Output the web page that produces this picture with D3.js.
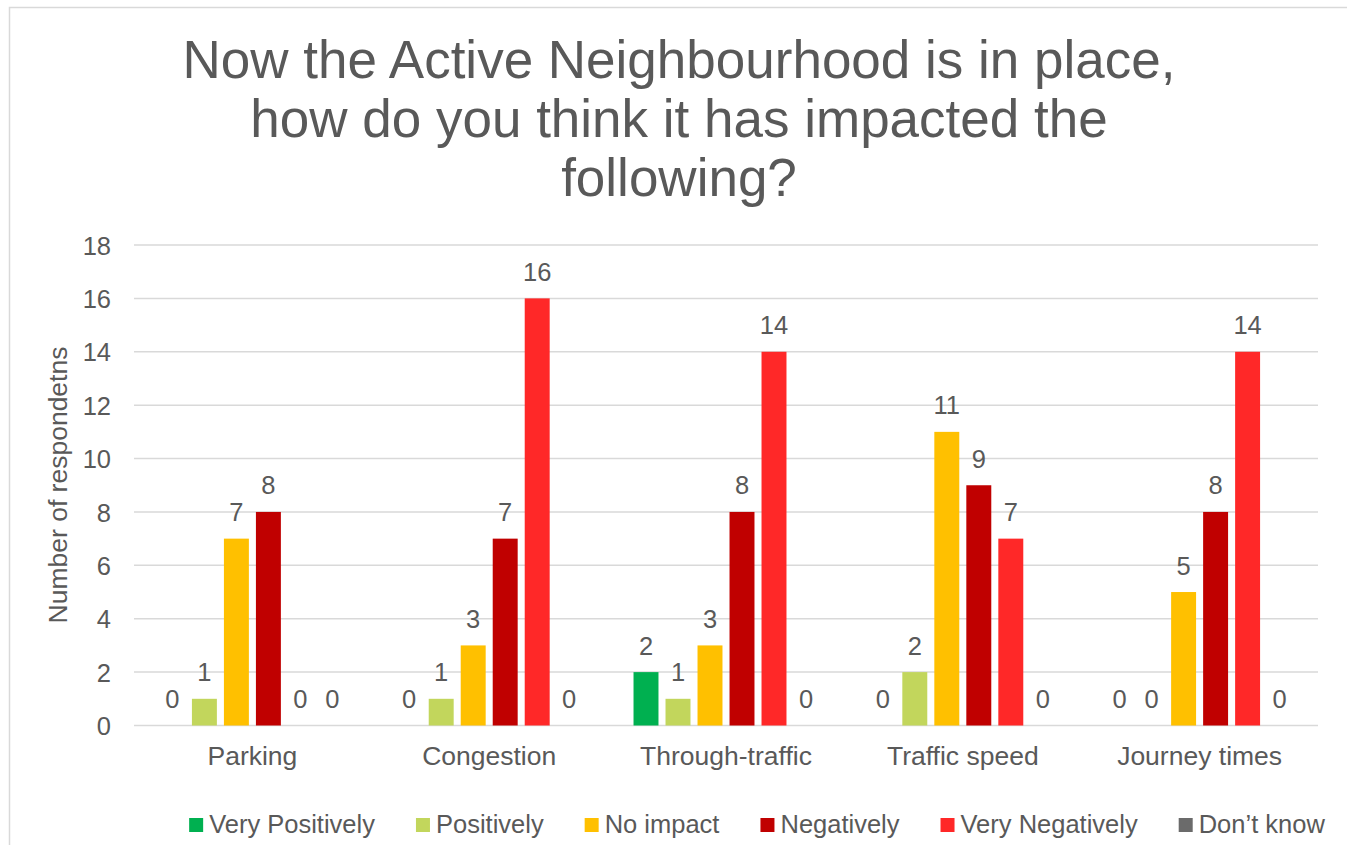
<!DOCTYPE html>
<html>
<head>
<meta charset="utf-8">
<script src="https://cdn.jsdelivr.net/npm/d3@7"></script>
<style>
  body { margin: 0; background: #fff; }
  text { font-family: "Liberation Sans", Arial, sans-serif; fill: #595959; }
</style>
</head>
<body>
<svg id="chart"></svg>
<script>
var categories = ["Parking", "Congestion", "Through-traffic", "Traffic speed", "Journey times"];
var seriesNames = ["Very Positively", "Positively", "No impact", "Negatively", "Very Negatively", "Don\u2019t know"];
var veryPositively = [0, 0, 2, 0, 0];
var positively = [1, 1, 1, 2, 0];
var noImpact = [7, 3, 3, 11, 5];
var negatively = [8, 7, 8, 9, 8];
var veryNegatively = [0, 16, 14, 7, 14];
var dontKnow = [0, 0, 0, 0, 0];
var yTicks = [0, 2, 4, 6, 8, 10, 12, 14, 16, 18];
var titleLines = ["Now the Active Neighbourhood is in place,", "how do you think it has impacted the", "following?"];

var seriesValues = [veryPositively, positively, noImpact, negatively, veryNegatively, dontKnow];
var colors = ["#00B050", "#C2D65C", "#FFC000", "#C00000", "#FF2828", "#6B6B6B"];

var width = 1347, height = 845;
var svg = d3.select("#chart").attr("width", width).attr("height", height);

// chart frame (cut off at right and bottom)
svg.append("rect")
  .attr("x", 9.5).attr("y", 7.5)
  .attr("width", 1400).attr("height", 900)
  .attr("fill", "none").attr("stroke", "#d9d9d9").attr("stroke-width", 1.5);

// title
svg.append("g").selectAll("text")
  .data(titleLines)
  .enter().append("text")
  .attr("x", 679)
  .attr("y", function (d, i) { return 78 + i * 59; })
  .attr("text-anchor", "middle")
  .style("font-size", "53px")
  .text(function (d) { return d; });

var x0 = d3.scaleBand().domain(categories).range([134, 1318]).padding(0);
var gap = x0.bandwidth() * 0.0946;
var x1 = d3.scaleBand().domain(seriesNames)
  .range([gap, x0.bandwidth() - gap])
  .paddingInner(0.22).paddingOuter(0.11);
var y = d3.scaleLinear().domain([0, 18]).range([725.5, 245]);

// gridlines
svg.append("g").selectAll("line")
  .data(yTicks)
  .enter().append("line")
  .attr("x1", 134).attr("x2", 1318)
  .attr("y1", function (d) { return y(d); })
  .attr("y2", function (d) { return y(d); })
  .attr("stroke", "#d9d9d9").attr("stroke-width", 1.5);

// y axis
var yAxis = svg.append("g")
  .attr("transform", "translate(111,0)")
  .call(d3.axisLeft(y).tickValues(yTicks).tickSize(0).tickPadding(0));
yAxis.select(".domain").remove();
yAxis.selectAll("text")
  .style("font-size", "25.5px")
  .attr("fill", "#595959")
  .attr("dy", "0.36em");

svg.append("text")
  .attr("transform", "translate(67,485) rotate(-90)")
  .attr("text-anchor", "middle")
  .style("font-size", "26.5px")
  .text("Number of respondetns");

// x axis labels
var xAxis = svg.append("g")
  .attr("transform", "translate(0,725.5)")
  .call(d3.axisBottom(x0).tickSize(0).tickPadding(0));
xAxis.select(".domain").remove();
xAxis.selectAll("text")
  .style("font-size", "26.5px")
  .attr("fill", "#595959")
  .attr("dy", "0")
  .attr("y", 39);

// bars
var groups = svg.append("g").selectAll("g")
  .data(categories)
  .enter().append("g")
  .attr("transform", function (d) { return "translate(" + x0(d) + ",0)"; });

groups.each(function (cat, ci) {
  var g = d3.select(this);
  var rows = seriesNames.map(function (s, si) {
    return { name: s, value: seriesValues[si][ci], color: colors[si] };
  });
  g.selectAll("rect")
    .data(rows)
    .enter().append("rect")
    .attr("x", function (d) { return x1(d.name); })
    .attr("width", x1.bandwidth())
    .attr("y", function (d) { return y(d.value); })
    .attr("height", function (d) { return y(0) - y(d.value); })
    .attr("fill", function (d) { return d.color; });
  g.selectAll("text")
    .data(rows)
    .enter().append("text")
    .attr("x", function (d) { return x1(d.name) + x1.bandwidth() / 2; })
    .attr("y", function (d) { return y(d.value) - 17.5; })
    .attr("text-anchor", "middle")
    .style("font-size", "25.5px")
    .attr("fill", "#404040")
    .text(function (d) { return d.value; });
});

// legend
var legend = svg.append("g").attr("transform", "translate(0,833)");
var items = legend.selectAll("g")
  .data(seriesNames)
  .enter().append("g");
items.append("rect")
  .attr("y", -15).attr("width", 14).attr("height", 14)
  .attr("fill", function (d, i) { return colors[i]; });
items.append("text")
  .attr("x", 20)
  .style("font-size", "25.5px")
  .text(function (d) { return d; });
var pos = 0, offsets = [];
items.each(function () {
  offsets.push(pos);
  pos += 20 + d3.select(this).select("text").node().getComputedTextLength() + 41;
});
var total = pos - 41;
var start = 757 - total / 2;
items.attr("transform", function (d, i) { return "translate(" + (start + offsets[i]) + ",0)"; });
</script>
</body>
</html>
